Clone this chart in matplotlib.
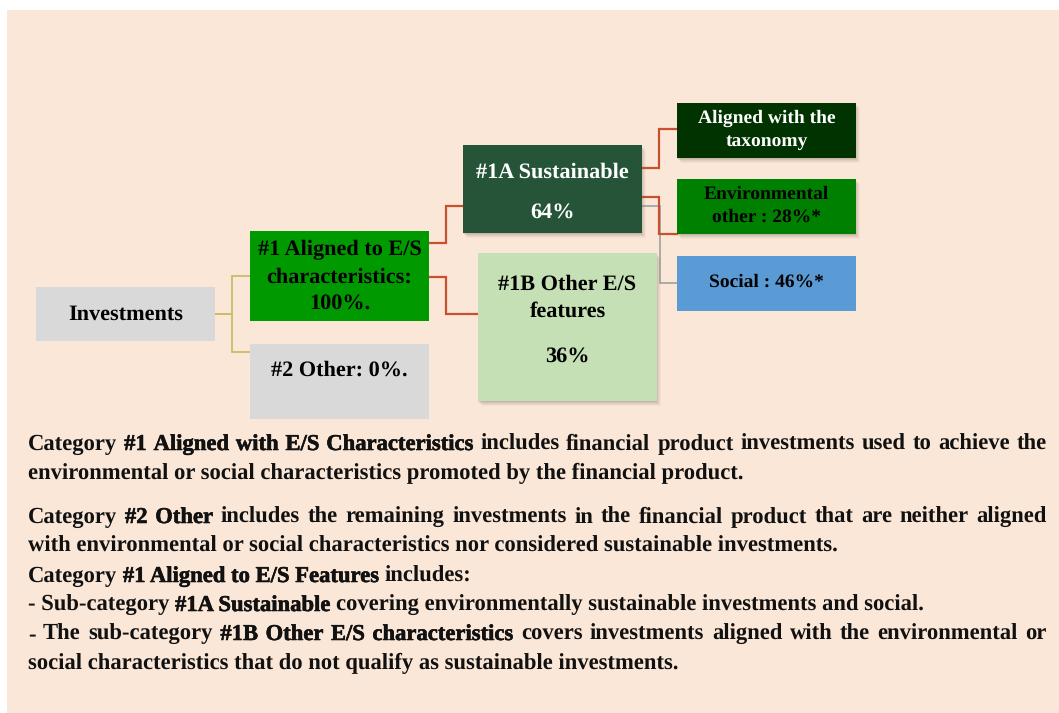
import matplotlib
matplotlib.use("Agg")
import matplotlib.pyplot as plt
from matplotlib.patches import Rectangle
import matplotlib.patheffects as pe

plt.rcParams["text.hinting"] = "no_hinting"

# ---------------- data ----------------
pct_aligned = 100
pct_other = 0
pct_sustainable = 64
pct_other_es = 36
pct_env_other = 28
pct_social = 46

node_ids = ["inv", "n1", "n2", "n1a", "n1b", "tax", "env", "soc"]
node_texts = [
    "Investments",
    "#1 Aligned to E/S\ncharacteristics:\n%d%%." % pct_aligned,
    "#2 Other: %d%%." % pct_other,
    "#1A Sustainable\n%d%%" % pct_sustainable,
    "#1B Other E/S\nfeatures\n%d%%" % pct_other_es,
    "Aligned with the\ntaxonomy",
    "Environmental\nother : %d%%*" % pct_env_other,
    "Social : %d%%*" % pct_social,
]

body_lines = [
    [("Category", 0), ("#1 Aligned with E/S Characteristics", 1),
     ("includes financial product investments used to achieve the", 0)],
    [("environmental or social characteristics promoted by the financial product.", 0)],
    [("Category", 0), ("#2 Other", 1),
     ("includes the remaining investments in the financial product that are neither aligned", 0)],
    [("with environmental or social characteristics nor considered sustainable investments.", 0)],
    [("Category", 0), ("#1 Aligned to E/S Features", 1), ("includes:", 0)],
    [("- Sub-category", 0), ("#1A Sustainable", 1),
     ("covering environmentally sustainable investments and social.", 0)],
    [("- The sub-category", 0), ("#1B Other E/S characteristics", 1),
     ("covers investments aligned with the environmental or", 0)],
    [("social characteristics that do not qualify as sustainable investments.", 0)],
]
body_justify = [True, False, True, False, False, False, True, False]

# ---------------- layout / style ----------------
W, H = 1059, 713
FONT = "Liberation Serif"
BG = "#FAE7D7"

boxes = {  # x0, y0, x1, y1, face, text colour, shadow, text y positions, font size
    "inv": (36, 287, 215, 341, "#D9D9D9", "black", False, [314], 16.0),
    "n1": (250, 231, 429, 321, "#009900", "black", False, [250, 277, 303], 16.0),
    "n2": (250, 344, 429, 419, "#D9D9D9", "black", False, [370], 16.0),
    "n1a": (463, 145, 642, 233, "#255439", "white", True, [172, 212], 16.0),
    "n1b": (478, 253, 657, 401, "#C5E0B4", "black", True, [284, 311, 356], 16.0),
    "tax": (677, 103, 856, 158, "#003300", "white", True, [118, 141], 14.0),
    "env": (677, 179, 856, 234, "#008000", "black", True, [194, 217], 14.0),
    "soc": (677, 256, 856, 311, "#5B9BD5", "black", False, [282], 14.0),
}

fig = plt.figure(figsize=(W / 100, H / 100), dpi=100)
fig.patch.set_facecolor("white")
ax = fig.add_axes([0, 0, 1, 1])
ax.set_xlim(0, W)
ax.set_ylim(H, 0)
ax.axis("off")

ax.add_patch(Rectangle((7, 10), W - 7, H - 10, facecolor=BG, edgecolor="none", zorder=0))

# connectors
def elbow(x0, y0, xm, y1, x1, color, lw=1.6):
    ax.plot([x0, xm, xm, x1], [y0, y0, y1, y1], color=color, lw=lw,
            solid_joinstyle="miter", zorder=1)

olive = "#CDBB6A"
red = "#C8502E"
grey = "#A6A6A6"
elbow(215, 314, 232, 276, 250, olive, 1.3)
elbow(215, 314, 232, 352, 250, olive, 1.3)
elbow(429, 243, 446, 206, 463, red)
elbow(429, 277, 446, 314, 478, red)
elbow(642, 168, 659, 129, 677, red)
elbow(642, 206, 660, 283, 677, grey, 1.3)
elbow(642, 197, 659, 234, 677, red)

# boxes
for nid, txt in zip(node_ids, node_texts):
    x0, y0, x1, y1, fc, tc, shadow, ys, bfs = boxes[nid]
    if shadow:
        for k, a in zip(range(5, 0, -1), [0.05, 0.07, 0.09, 0.11, 0.13]):
            ax.add_patch(Rectangle((x0 + k - 1, y0 + k), x1 - x0, y1 - y0,
                                   facecolor="#7a6a5a", alpha=a, edgecolor="none", zorder=2))
    ax.add_patch(Rectangle((x0, y0), x1 - x0, y1 - y0, facecolor=fc,
                           edgecolor="none", zorder=3))
    xc = (x0 + x1) / 2
    for line, y in zip(txt.split("\n"), ys):
        ax.text(xc, y, line, ha="center", va="center", fontsize=bfs,
                fontweight="bold", family=FONT, color=tc, zorder=4)

# body text with justification
renderer = fig.canvas.get_renderer()

def measure(s, fs):
    t = ax.text(0, 0, s, fontsize=fs, fontweight="bold", family=FONT)
    w = t.get_window_extent(renderer).width
    t.remove()
    return w

fs = 16.3
line_y = [443, 472, 516, 545, 575, 604, 633, 662]
X0, X1 = 28, 1047
space_w = measure("a a", fs) - measure("aa", fs)
txt_col = "#111111"

def put(x, y, s, bold):
    kw = dict(fontsize=fs, fontweight="bold", family=FONT, color=txt_col,
              ha="left", va="baseline", zorder=4)
    if bold:
        kw["path_effects"] = [pe.withStroke(linewidth=0.4, foreground=txt_col)]
    ax.text(x, y, s, **kw)

for segs, just, y in zip(body_lines, body_justify, line_y):
    base = y + 7
    if just:
        words = []
        for s, b in segs:
            for w in s.split():
                words.append((w, b))
        widths = [measure(w, fs) for w, _ in words]
        gap = (X1 - X0 - sum(widths)) / (len(words) - 1)
        x = X0
        for (w, b), wd in zip(words, widths):
            put(x, base, w, b)
            x += wd + gap
    else:
        x = X0
        for s, b in segs:
            put(x, base, s, b)
            x += measure(s, fs) + space_w

fig.savefig("out.png", dpi=100, facecolor=fig.get_facecolor())
